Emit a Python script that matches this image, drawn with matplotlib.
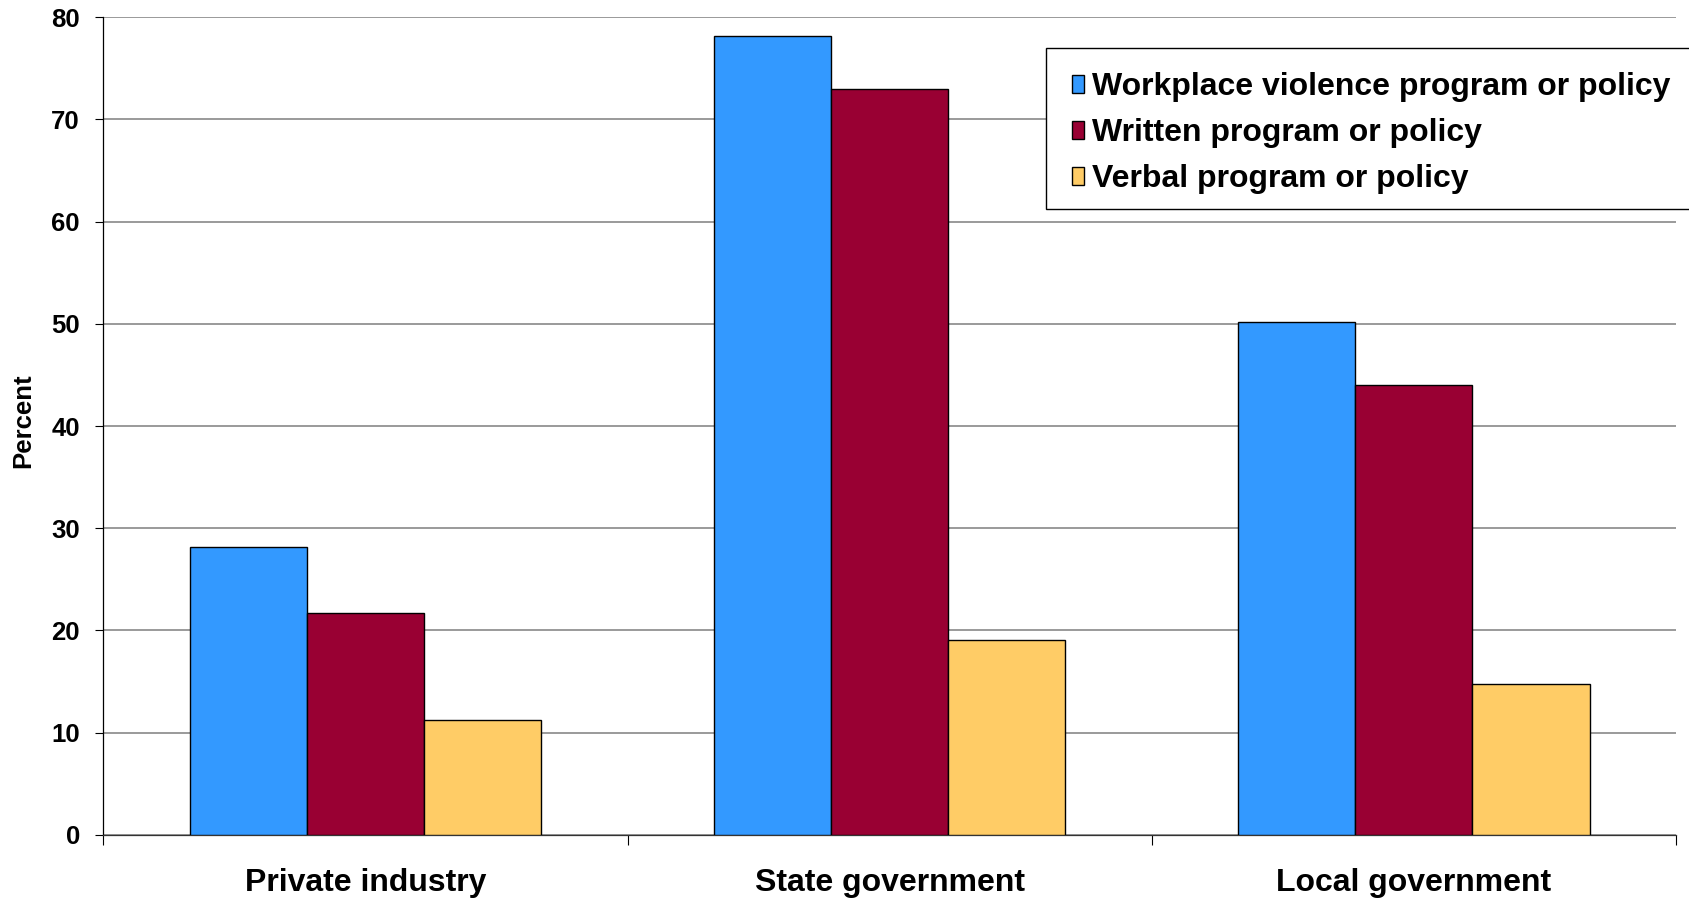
import matplotlib
matplotlib.use("Agg")
import matplotlib.pyplot as plt
from matplotlib.patches import Rectangle
from matplotlib.ticker import FixedLocator

categories = ["Private industry", "State government", "Local government"]
series_names = ["Workplace violence program or policy",
                "Written program or policy",
                "Verbal program or policy"]
workplace = [28.2, 78.2, 50.2]
written = [21.7, 73.0, 44.0]
verbal = [11.2, 19.1, 14.75]
y_ticks = [0, 10, 20, 30, 40, 50, 60, 70, 80]

colors = ["#3399FF", "#990033", "#FFCC66"]
FONT = "Liberation Sans"

fig = plt.figure(figsize=(16.9, 9.01), dpi=100)
ax = fig.add_axes([0.0612, 0.0733, 0.9305, 0.9077])

w = 0.2235
for j, vals in enumerate([workplace, written, verbal]):
    xs = [i + 0.5 + (j - 1) * w for i in range(len(categories))]
    ax.bar(xs, vals, width=w, color=colors[j], edgecolor="black",
           linewidth=1.0, label=series_names[j], zorder=3)

ax.set_xlim(0, 3)
ax.set_ylim(0, 80)
ax.set_yticks(y_ticks)
ax.set_yticklabels([str(t) for t in y_ticks], fontfamily=FONT,
                   fontweight="bold", fontsize=18.5)
ax.yaxis.grid(True, color="#7f7f7f", linewidth=1.1, zorder=0)
ax.set_axisbelow(True)

ax.xaxis.set_major_locator(FixedLocator([0, 1, 2, 3]))
ax.set_xticklabels([])
ax.xaxis.set_minor_locator(FixedLocator([0.5, 1.5, 2.5]))
ax.set_xticklabels(categories, minor=True, fontfamily=FONT,
                   fontweight="bold", fontsize=23)
ax.tick_params(axis="x", which="major", length=7, width=0.8, direction="out")
ax.tick_params(axis="x", which="minor", length=0, pad=24)
ax.tick_params(axis="y", length=6, width=0.8, pad=11)

for s in ["top", "right"]:
    ax.spines[s].set_visible(False)
ax.spines["left"].set_linewidth(0.9)
ax.spines["bottom"].set_linewidth(0.9)
ax.spines["bottom"].set_color("#333333")

fig.text(23 / 1690, 1 - 421 / 901, "Percent", rotation=90, ha="center",
         va="center", fontfamily=FONT, fontweight="bold", fontsize=18.5)

frame = Rectangle((1046 / 1690, 1 - 209 / 901), 0.5, (209 - 48.5) / 901,
                  transform=fig.transFigure, fill=True, facecolor="white",
                  edgecolor="black", linewidth=1.0, zorder=4, clip_on=False)
ax.add_patch(frame)

leg = ax.legend(loc="upper left", bbox_to_anchor=(1046 / 1690, 1 - 46.5 / 901),
                bbox_transform=fig.transFigure,
                prop={"family": FONT, "weight": "bold", "size": 23},
                frameon=False,
                handlelength=0.38, handleheight=0.5, handletextpad=0.25,
                labelspacing=0.5, borderpad=0.8, borderaxespad=0)
leg.set_clip_on(False)
leg.set_zorder(6)

fig.savefig("out.png", dpi=100)
